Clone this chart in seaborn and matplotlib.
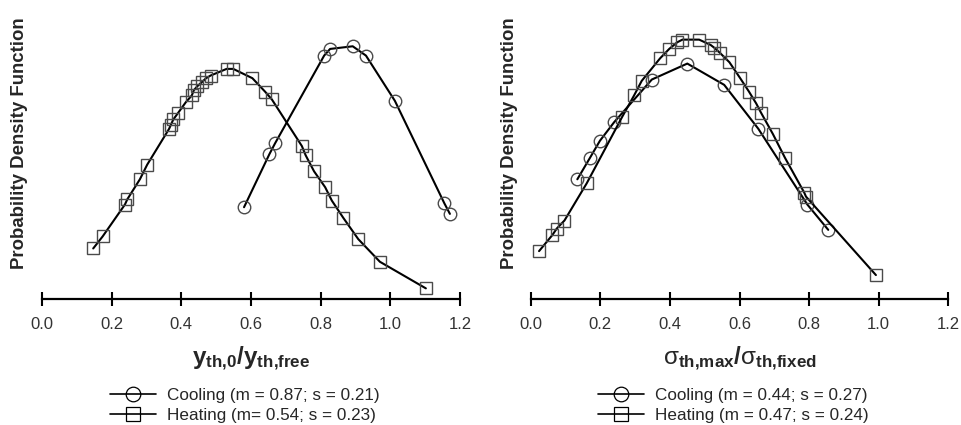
import matplotlib
matplotlib.use("Agg")
import matplotlib.pyplot as plt
import seaborn as sns
import pandas as pd
from matplotlib.lines import Line2D

# ---- data ----
left_heat_x = [0.147, 0.174, 0.238, 0.245, 0.281, 0.302, 0.365, 0.370, 0.377, 0.391, 0.413,
               0.430, 0.436, 0.446, 0.459, 0.471, 0.484, 0.530, 0.549, 0.604, 0.640, 0.660,
               0.746, 0.757, 0.781, 0.813, 0.832, 0.865, 0.908, 0.970, 1.102]
left_heat_y = [0.38, 0.47, 0.71, 0.75, 0.90, 1.01, 1.28, 1.31, 1.35, 1.40, 1.48,
               1.53, 1.57, 1.60, 1.63, 1.66, 1.68, 1.73, 1.73, 1.66, 1.56, 1.50,
               1.15, 1.08, 0.96, 0.84, 0.74, 0.61, 0.45, 0.28, 0.08]
left_cool_x = [0.580, 0.653, 0.669, 0.810, 0.827, 0.892, 0.930, 1.013, 1.155, 1.171]
left_cool_y = [0.69, 1.09, 1.17, 1.83, 1.88, 1.90, 1.83, 1.49, 0.72, 0.64]

right_heat_x = [0.024, 0.062, 0.075, 0.097, 0.161, 0.263, 0.297, 0.319, 0.372, 0.398, 0.421,
                0.436, 0.484, 0.517, 0.527, 0.544, 0.571, 0.602, 0.627, 0.648, 0.662, 0.696,
                0.731, 0.786, 0.791, 0.992]
right_heat_y = [0.36, 0.48, 0.53, 0.59, 0.87, 1.37, 1.53, 1.64, 1.81, 1.88, 1.93,
                1.95, 1.95, 1.91, 1.89, 1.85, 1.78, 1.66, 1.56, 1.47, 1.40, 1.24,
                1.06, 0.80, 0.77, 0.18]
right_cool_x = [0.134, 0.170, 0.199, 0.240, 0.348, 0.450, 0.556, 0.654, 0.795, 0.855]
right_cool_y = [0.90, 1.06, 1.19, 1.33, 1.65, 1.77, 1.61, 1.28, 0.71, 0.52]

xticks = [0.0, 0.2, 0.4, 0.6, 0.8, 1.0, 1.2]
ylabel = "Probability Density Function"
left_xlabel = r"$\mathbf{y_{th{,}0}/y_{th{,}free}}$"
right_xlabel = r"$\mathrm{σ}_\mathbf{th{,}max}\mathbf{/}\mathrm{σ}_\mathbf{th{,}fixed}$"
left_labels = ["Cooling (m = 0.87; s = 0.21)", "Heating (m= 0.54; s = 0.23)"]
right_labels = ["Cooling (m = 0.44; s = 0.27)", "Heating (m = 0.47; s = 0.24)"]

sns.set_style("white")
plt.rcParams["font.family"] = ["Liberation Sans", "DejaVu Sans"]
plt.rcParams["mathtext.fontset"] = "custom"
plt.rcParams["mathtext.bf"] = "Liberation Sans:bold"
plt.rcParams["mathtext.rm"] = "Liberation Sans"
plt.rcParams["mathtext.it"] = "Liberation Sans:italic"

fig = plt.figure(figsize=(9.61, 4.25), dpi=100)
W, H = 961, 425
ax_bottom = 1 - 299 / H
ax_h = (299 - 25) / H
axL = fig.add_axes([42 / W, ax_bottom, 418 / W, ax_h])
axR = fig.add_axes([530.7 / W, ax_bottom, 417.6 / W, ax_h])

MEC = "#4a4a4a"
line_kw = dict(color="black", linewidth=1.5, markersize=9, markerfacecolor="none",
               markeredgecolor=MEC, markeredgewidth=1.0)


def draw(ax, cx, cy, hx, hy, xlabel, labels, ylab_x):
    dc = pd.DataFrame({"x": cx, "y": cy})
    dh = pd.DataFrame({"x": hx, "y": hy})
    sns.lineplot(data=dc, x="x", y="y", ax=ax, sort=False, estimator=None,
                 marker="o", **line_kw)
    sns.lineplot(data=dh, x="x", y="y", ax=ax, sort=False, estimator=None,
                 marker="s", **line_kw)
    ax.set_xlim(0, 1.2)
    ax.set_ylim(0, 2.06)
    ax.set_xticks(xticks)
    ax.set_xticklabels([f"{t:.1f}" for t in xticks])
    ax.set_yticks([])
    for s in ["left", "top", "right"]:
        ax.spines[s].set_visible(False)
    ax.spines["bottom"].set_linewidth(1.6)
    ax.spines["bottom"].set_color("black")
    ax.tick_params(axis="x", direction="inout", length=10, width=1.5, color="black",
                   labelsize=12, labelcolor="#333333", pad=8, bottom=True)
    ax.set_xlabel(xlabel, fontsize=17.5, labelpad=9)
    ax.set_ylabel("")
    fig.text(ylab_x / W, 1 - 143 / H, ylabel, rotation=90, ha="center", va="center",
             fontsize=13.4, fontweight="bold")
    handles = [
        Line2D([], [], color="black", linewidth=1.2, marker="o", markersize=10.5,
               markerfacecolor="none", markeredgecolor="black", markeredgewidth=0.9),
        Line2D([], [], color="black", linewidth=1.2, marker="s", markersize=10.5,
               markerfacecolor="none", markeredgecolor="black", markeredgewidth=0.9),
    ]
    ax.legend(handles, labels, loc="upper center", bbox_to_anchor=(0.485, -0.282),
              frameon=False, fontsize=12.3, handlelength=2.7, handletextpad=0.6,
              labelspacing=0.28, borderpad=0.2)


draw(axL, left_cool_x, left_cool_y, left_heat_x, left_heat_y, left_xlabel, left_labels, 20)
draw(axR, right_cool_x, right_cool_y, right_heat_x, right_heat_y, right_xlabel, right_labels, 510)

fig.savefig("out.png", dpi=100)
